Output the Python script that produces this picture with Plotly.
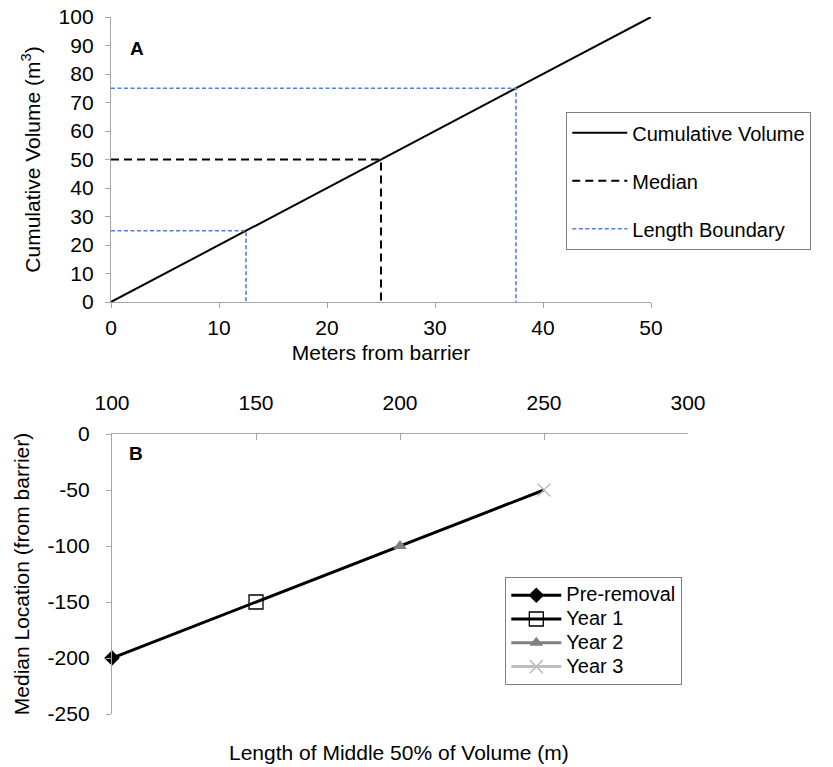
import plotly.graph_objects as go

# ---- Panel A data ----
cum_x = [0, 50]
cum_y = [0, 100]
median_x = [0, 25, 25]
median_y = [50, 50, 0]
bound_x = [0, 12.5, 12.5, None, 0, 37.5, 37.5]
bound_y = [25, 25, 0, None, 75, 75, 0]
a_xticks = [0, 10, 20, 30, 40, 50]
a_yticks = list(range(0, 101, 10))

# ---- Panel B data ----
series_names = ["Pre-removal", "Year 1", "Year 2", "Year 3"]
length_mid50 = [100, 150, 200, 250]
median_loc = [-200, -150, -100, -50]
b_xticks = [100, 150, 200, 250, 300]
b_yticks = [0, -50, -100, -150, -200, -250]
b_yticklabels = ["0", "-50", "-100", "-150", "-200", "-250"]

FONT = "Liberation Sans, Arial, sans-serif"
W, H = 833, 767
AX = "#a6a6a6"
FS = 21

fig = go.Figure()

fig.add_trace(go.Scatter(x=cum_x, y=cum_y, mode="lines", name="Cumulative Volume",
                         line=dict(color="black", width=2), xaxis="x", yaxis="y",
                         legend="legend", legendgroup="a1"))
fig.add_trace(go.Scatter(x=median_x, y=median_y, mode="lines", name="Median",
                         line=dict(color="black", width=2, dash="8px,5px"), xaxis="x", yaxis="y",
                         legend="legend", legendgroup="a2"))
fig.add_trace(go.Scatter(x=bound_x, y=bound_y, mode="lines", name="Length Boundary",
                         line=dict(color="#4f81d0", width=1.6, dash="4px,2.5px"), xaxis="x", yaxis="y",
                         legend="legend", legendgroup="a3", connectgaps=False))

# connecting line for panel B
fig.add_trace(go.Scatter(x=length_mid50, y=median_loc, mode="lines", showlegend=False,
                         line=dict(color="black", width=3), xaxis="x2", yaxis="y2",
                         hoverinfo="skip", cliponaxis=False))

styles = [
    dict(symbol="diamond", color="black", line_color="black", size=12, mlw=0, fill="black"),
    dict(symbol="square-open", color="black", line_color="black", size=14, mlw=1.3, fill="black"),
    dict(symbol="triangle-up", color="#808080", line_color="#808080", size=12, mlw=0, fill="#808080"),
    dict(symbol="x-thin-open", color="#bfbfbf", line_color="#bfbfbf", size=13, mlw=1.5, fill="#bfbfbf"),
]
for name, xv, yv, s in zip(series_names, length_mid50, median_loc, styles):
    fig.add_trace(go.Scatter(
        x=[xv], y=[yv], mode="lines+markers",
        name='<span style="font-size:%dpx">%s</span>' % (FS - 1, name),
        line=dict(color=s["line_color"], width=3),
        marker=dict(symbol=s["symbol"], size=s["size"], color=s["fill"],
                    line=dict(color=s["color"], width=s["mlw"])),
        xaxis="x2", yaxis="y2", legend="legend2", cliponaxis=False))

tickfont = dict(family=FONT, size=FS, color="black")
titlefont = dict(family=FONT, size=FS, color="black")


def px_x(p):
    return p / W


def px_y(p):
    return 1 - p / H


common = dict(showgrid=False, zeroline=False, showline=True, linecolor=AX, linewidth=1.3,
              tickcolor=AX, tickfont=tickfont, automargin=False)

fig.update_layout(
    width=W, height=H,
    margin=dict(l=0, r=0, t=0, b=0),
    paper_bgcolor="white", plot_bgcolor="white",
    font=dict(family=FONT, size=FS, color="black"),
    xaxis=dict(domain=[px_x(111), px_x(651)], range=[0, 50], anchor="y",
               tickvals=a_xticks, ticks="outside", ticklen=5, ticklabelstandoff=2,
               title=dict(text="Meters from barrier", font=titlefont, standoff=6), **common),
    yaxis=dict(domain=[px_y(302), px_y(17)], range=[0, 100], anchor="x",
               tickvals=a_yticks, ticks="outside", ticklen=5, ticklabelstandoff=7,
               title=dict(text="Cumulative Volume (m<sup>3</sup>)", font=titlefont, standoff=12), **common),
    xaxis2=dict(domain=[px_x(112), px_x(688)], range=[100, 300], anchor="y2", side="top",
                tickvals=b_xticks, ticks="inside", ticklen=6, ticklabelstandoff=14, **common),
    yaxis2=dict(domain=[px_y(714), px_y(434)], range=[-250, 0], anchor="x2",
                tickvals=b_yticks, ticktext=b_yticklabels, ticks="outside", ticklen=5,
                ticklabelstandoff=12,
                title=dict(text="Median Location (from barrier)", font=titlefont, standoff=12), **common),
    legend=dict(x=px_x(566), y=px_y(112), xanchor="left", yanchor="top",
                bordercolor="#7f7f7f", borderwidth=1.3, bgcolor="white",
                font=dict(family=FONT, size=FS - 1, color="black"),
                tracegroupgap=19, itemwidth=55),
    legend2=dict(x=px_x(505), y=px_y(577), xanchor="left", yanchor="top",
                 bordercolor="#7f7f7f", borderwidth=1.3, bgcolor="white",
                 font=dict(family=FONT, size=16, color="black"),
                 tracegroupgap=0, itemwidth=50),
    showlegend=True,
    annotations=[
        dict(text="<b>A</b>", x=px_x(137), y=px_y(48), xref="paper", yref="paper",
             xanchor="center", yanchor="middle",
             showarrow=False, font=dict(family=FONT, size=FS - 2, color="black")),
        dict(text="<b>B</b>", x=px_x(136), y=px_y(453), xref="paper", yref="paper",
             xanchor="center", yanchor="middle",
             showarrow=False, font=dict(family=FONT, size=FS - 2, color="black")),
        dict(text="Length of Middle 50% of Volume (m)", x=px_x(399), y=px_y(752),
             xref="paper", yref="paper", showarrow=False, xanchor="center", yanchor="middle",
             font=dict(family=FONT, size=FS, color="black")),
    ],
)

fig.write_html("out.html", config={"displayModeBar": False},
               post_script="document.body.style.margin='0px';")
